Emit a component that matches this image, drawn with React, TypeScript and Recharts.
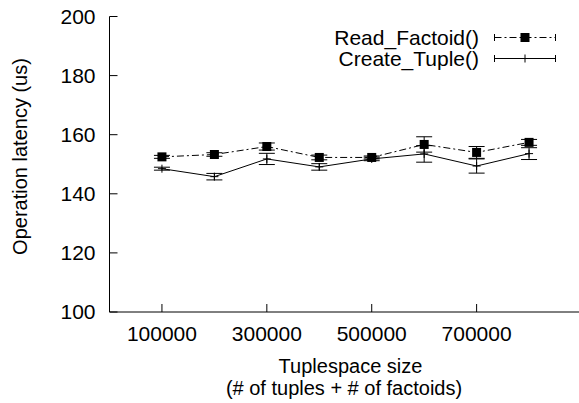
import { LineChart, Line, XAxis, YAxis, ErrorBar, Legend, Label } from "recharts";

// tuplespace sizes on the x axis
const SIZES = [100000, 200000, 300000, 400000, 500000, 600000, 700000, 800000];
// latency in microseconds, with the error bar half-widths
const READ_FACTOID = [152.5, 153.3, 156.0, 152.3, 152.3, 156.7, 154.0, 157.4];
const READ_FACTOID_ERR = [0.5, 0.6, 1.2, 0.8, 0.5, 2.6, 2.0, 1.0];
const CREATE_TUPLE = [148.5, 145.8, 151.8, 149.1, 151.8, 153.5, 149.4, 153.6];
const CREATE_TUPLE_ERR = [0.5, 1.1, 1.9, 1.1, 0.6, 2.8, 2.4, 2.0];
const SERIES_NAMES = ["Read_Factoid()", "Create_Tuple()"];

const X_TICKS = [100000, 300000, 500000, 700000];
const Y_TICKS = [100, 120, 140, 160, 180, 200];

const data = SIZES.map((size, i) => ({
  size,
  read: READ_FACTOID[i],
  readErr: READ_FACTOID_ERR[i],
  create: CREATE_TUPLE[i],
  createErr: CREATE_TUPLE_ERR[i],
}));

const FONT = '"Liberation Sans", Arial, Helvetica, sans-serif';
const READ_DASH = "7 3 2 3";

const SquareDot = (p: any) => (
  <rect key={`sq-${p.index}`} x={p.cx - 4.5} y={p.cy - 4.5} width={9} height={9} fill="#000" />
);

const PlusDot = (p: any) => (
  <path
    key={`pl-${p.index}`}
    d={`M${p.cx - 4},${p.cy}H${p.cx + 4}M${p.cx},${p.cy - 4}V${p.cy + 4}`}
    stroke="#000"
    strokeWidth={1}
    fill="none"
  />
);

// gnuplot style key, top right inside the frame
function LegendBox() {
  return (
    <svg width={600} height={80} style={{ display: "block", fontFamily: FONT }}>
      {SERIES_NAMES.map((name, i) => {
        const y = 37.5 + i * 21;
        const dashed = i === 0;
        return (
          <g key={name}>
            <text x={479} y={y + 7} textAnchor="end" fontSize={21} fill="#000">
              {name}
            </text>
            <line x1={494.5} x2={555.5} y1={y} y2={y} stroke="#000" strokeWidth={1} strokeDasharray={dashed ? READ_DASH : undefined} />
            <line x1={494.5} x2={494.5} y1={y - 3.5} y2={y + 3.5} stroke="#000" />
            <line x1={555.5} x2={555.5} y1={y - 3.5} y2={y + 3.5} stroke="#000" />
            {dashed ? SquareDot({ cx: 525, cy: y, index: 99 }) : PlusDot({ cx: 525, cy: y, index: 99 })}
          </g>
        );
      })}
    </svg>
  );
}

export default function App() {
  const tick = { fill: "#000", fontSize: 21, fontFamily: FONT };
  return (
    <div style={{ position: "absolute", left: 0, top: 0, width: 579, height: 403, overflow: "hidden", background: "#fff", fontFamily: FONT }}>
      <LineChart width={600} height={403} data={data} margin={{ top: 16.5, right: 18.5, bottom: 51, left: 9.5 }}>
        <XAxis
          dataKey="size"
          type="number"
          domain={[0, 900000]}
          allowDataOverflow
          ticks={X_TICKS}
          height={40}
          tickSize={-8}
          tickMargin={22.5}
          tick={tick}
          stroke="#000"
        >
          <Label
            content={() => (
              <g fontFamily={FONT} fontSize={20} fill="#000">
                <text x={350.5} y={372.5} textAnchor="middle">Tuplespace size</text>
                <text x={344} y={394.5} textAnchor="middle">(# of tuples + # of factoids)</text>
              </g>
            )}
          />
        </XAxis>
        <XAxis
          xAxisId="top"
          orientation="top"
          type="number"
          domain={[0, 900000]}
          allowDataOverflow
          ticks={X_TICKS}
          height={0}
          tickSize={-8}
          tick={false}
          stroke="#000"
        />
        <YAxis
          type="number"
          domain={[100, 200]}
          allowDataOverflow
          ticks={Y_TICKS}
          width={100}
          tickSize={-8}
          tickMargin={22}
          tick={tick}
          stroke="#000"
        >
          <Label
            content={() => (
              <text
                x={27}
                y={156.5}
                transform="rotate(-90 27 156.5)"
                textAnchor="middle"
                fontFamily={FONT}
                fontSize={20}
                fill="#000"
              >
                Operation latency (us)
              </text>
            )}
          />
        </YAxis>
        <YAxis
          yAxisId="right"
          orientation="right"
          type="number"
          domain={[100, 200]}
          allowDataOverflow
          ticks={Y_TICKS}
          width={0}
          tickSize={-8}
          tick={false}
          stroke="#000"
        />
        <Legend
          layout="vertical"
          align="center"
          verticalAlign="middle"
          wrapperStyle={{ left: 0, top: 0, width: 600, height: 80 }}
          content={<LegendBox />}
        />
        <Line
          name={SERIES_NAMES[0]}
          dataKey="read"
          stroke="#000"
          strokeWidth={1}
          strokeDasharray={READ_DASH}
          dot={SquareDot}
          activeDot={false}
          isAnimationActive={false}
        >
          <ErrorBar dataKey="readErr" width={8} stroke="#000" strokeWidth={1} direction="y" isAnimationActive={false} />
        </Line>
        <Line
          name={SERIES_NAMES[1]}
          dataKey="create"
          stroke="#000"
          strokeWidth={1}
          dot={PlusDot}
          activeDot={false}
          isAnimationActive={false}
        >
          <ErrorBar dataKey="createErr" width={8} stroke="#000" strokeWidth={1} direction="y" isAnimationActive={false} />
        </Line>
      </LineChart>
    </div>
  );
}
